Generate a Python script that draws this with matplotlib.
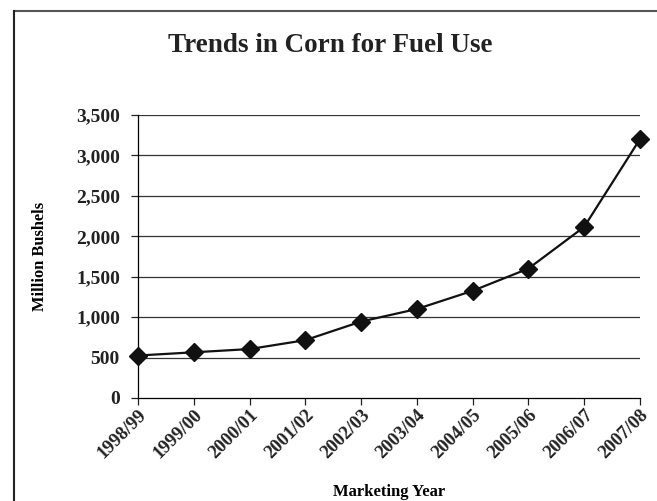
import matplotlib
matplotlib.use("Agg")
import matplotlib.pyplot as plt
from matplotlib.lines import Line2D
from matplotlib.ticker import FuncFormatter

# data
years = ["1998/99", "1999/00", "2000/01", "2001/02", "2002/03",
         "2003/04", "2004/05", "2005/06", "2006/07", "2007/08"]
bushels = [525, 565, 605, 715, 945, 1100, 1325, 1600, 2115, 3200]
y_ticks = [0, 500, 1000, 1500, 2000, 2500, 3000, 3500]

plt.rcParams['font.family'] = ['Liberation Serif', 'DejaVu Serif']
plt.rcParams['font.weight'] = 'bold'

fig = plt.figure(figsize=(6.57, 5.01), dpi=100)
ax = fig.add_axes([0.210, 0.2056, 0.764, 0.565])

x = list(range(len(years)))
ax.plot(x, bushels, color='#111111', lw=1.6, marker='D', markersize=9,
        markerfacecolor='#111111', markeredgecolor='#111111', zorder=3,
        clip_on=False)

ax.set_xlim(0, len(years) - 1)
ax.set_ylim(0, 3500)
ax.set_yticks(y_ticks)
ax.yaxis.set_major_formatter(FuncFormatter(lambda v, p: f"{int(v):,}"))
ax.set_xticks(x)
ax.set_xticklabels(years, rotation=45, ha='right', rotation_mode='anchor')

for v in y_ticks[1:]:
    ax.axhline(v, color='#333333', lw=0.9, zorder=1)

for s in ['top', 'right']:
    ax.spines[s].set_visible(False)
ax.spines['left'].set_linewidth(0.9)
ax.spines['bottom'].set_linewidth(0.9)
ax.tick_params(axis='y', direction='out', length=5, width=0.9,
               labelsize=14, colors='#222222', pad=8)
ax.tick_params(axis='x', direction='out', length=5, width=0.9,
               labelsize=13.5, colors='#222222', pad=1)
for lbl in ax.get_xticklabels() + ax.get_yticklabels():
    lbl.set_fontweight('bold')

ax.set_ylabel("Million Bushels", fontsize=11.8, fontweight='bold', labelpad=20)
ax.set_xlabel("Marketing Year", fontsize=12, fontweight='bold', labelpad=16)
fig.text(0.502, 0.910, "Trends in Corn for Fuel Use", ha='center', va='center',
         fontsize=19.5, fontweight='bold', color='#222222')

# outer frame (top and left only, as in the reference)
fig.add_artist(Line2D([0.021, 1.0], [0.979, 0.979], transform=fig.transFigure,
                      color='#555555', lw=1.5))
fig.add_artist(Line2D([0.021, 0.021], [0.0, 0.979], transform=fig.transFigure,
                      color='#222222', lw=1.5))

fig.savefig("out.png", dpi=100)
